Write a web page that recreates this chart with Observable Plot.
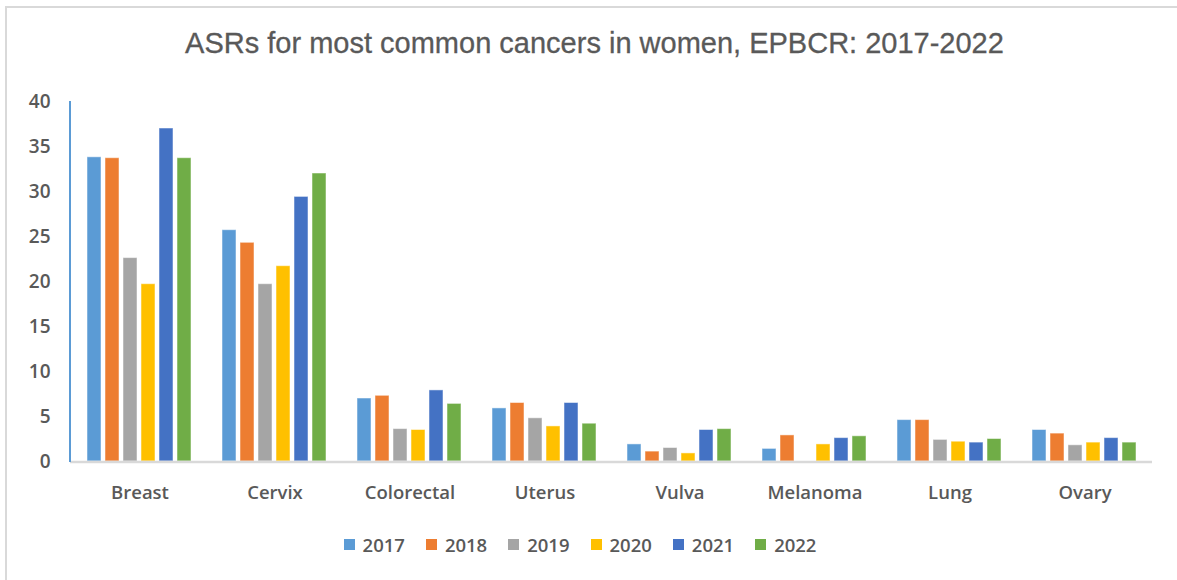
<!DOCTYPE html>
<html>
<head>
<meta charset="utf-8">
<script src="https://cdn.jsdelivr.net/npm/d3@7"></script>
<script src="https://cdn.jsdelivr.net/npm/@observablehq/plot@0.6"></script>
<style>
  html, body { margin: 0; padding: 0; background: #fff; }
  body { width: 1177px; height: 580px; position: relative; overflow: hidden; font-family: "Open Sans", "Liberation Sans", sans-serif; }
  #frame { position: absolute; left: 5px; top: 6px; width: 1172px; height: 574px; border-top: 2px solid #d9d9d9; border-left: 2px solid #d9d9d9; box-sizing: border-box; }
  #title { position: absolute; left: 0; width: 1189px; top: 27px; text-align: center; font-family: "Liberation Sans", sans-serif; font-size: 29px; color: #595959; white-space: nowrap; -webkit-text-stroke: 0.3px #595959; }
  #chart { position: absolute; left: 0; top: 80px; }
  #legend { position: absolute; left: 0; width: 1160px; top: 532px; display: flex; justify-content: center; gap: 21px; font-family: "Open Sans", sans-serif; font-weight: 600; font-size: 18.5px; color: #595959; }
  #legend .item { display: flex; align-items: center; gap: 8px; }
  #legend .sw { width: 11px; height: 11px; display: inline-block; }
</style>
</head>
<body>
<div id="frame"></div>
<div id="title">ASRs for most common cancers in women, EPBCR: 2017-2022</div>
<div id="chart"></div>
<div id="legend"></div>
<script>
const cancers = ["Breast", "Cervix", "Colorectal", "Uterus", "Vulva", "Melanoma", "Lung", "Ovary"];
const years = ["2017", "2018", "2019", "2020", "2021", "2022"];
const colors = ["#5B9BD5", "#ED7D31", "#A5A5A5", "#FFC000", "#4472C4", "#70AD47"];
const v2017 = [33.8, 25.7, 7.0, 5.9, 1.9, 1.4, 4.6, 3.5];
const v2018 = [33.7, 24.3, 7.3, 6.5, 1.1, 2.9, 4.6, 3.1];
const v2019 = [22.6, 19.7, 3.6, 4.8, 1.5, null, 2.4, 1.8];
const v2020 = [19.7, 21.7, 3.5, 3.9, 0.9, 1.9, 2.2, 2.1];
const v2021 = [37.0, 29.4, 7.9, 6.5, 3.5, 2.6, 2.1, 2.6];
const v2022 = [33.7, 32.0, 6.4, 4.2, 3.6, 2.8, 2.5, 2.1];
const yTicks = [0, 5, 10, 15, 20, 25, 30, 35, 40];

const series = [v2017, v2018, v2019, v2020, v2021, v2022];
const data = [];
years.forEach((yr, i) => cancers.forEach((c, j) => {
  if (series[i][j] != null) data.push({cancer: c, year: yr, value: series[i][j]});
}));

const chart = Plot.plot({
  width: 1177,
  height: 440,
  marginLeft: 70,
  marginRight: 22,
  marginTop: 21,
  marginBottom: 59,
  style: {fontFamily: "'Open Sans', sans-serif", background: "transparent"},
  fx: {domain: cancers, paddingInner: 0.22, paddingOuter: 0.11, label: null},
  x: {domain: years, paddingInner: 0.2, paddingOuter: 0, axis: null},
  y: {domain: [0, 40], label: null},
  color: {domain: years, range: colors},
  marks: [
    Plot.axisY({ticks: yTicks, tickSize: 0, tickPadding: 20, dx: -17, fontSize: 19, fontWeight: 600, fill: "#595959", label: null}),
    Plot.axisFx({anchor: "bottom", tickSize: 0, tickPadding: 24, fontSize: 18.5, fontWeight: 600, fill: "#595959", label: null}),
    Plot.barY(data, {fx: "cancer", x: "year", y: "value", fill: "year", stroke: "#ffffff", strokeOpacity: 0.5, strokeWidth: 1})
  ]
});
document.getElementById("chart").appendChild(chart);

// axis lines drawn from the plot's own scales
const ys = chart.scale("y");
const svg = d3.select(chart);
svg.append("line")
  .attr("x1", 70).attr("x2", 1152)
  .attr("y1", ys.apply(0) + 1).attr("y2", ys.apply(0) + 1)
  .attr("stroke", "#d9d9d9").attr("stroke-width", 2.5);
svg.append("line")
  .attr("x1", 70).attr("x2", 70)
  .attr("y1", ys.apply(40)).attr("y2", ys.apply(0) + 1)
  .attr("stroke", "#5B9BD5").attr("stroke-width", 2);

const legend = d3.select("#legend");
years.forEach((yr, i) => {
  const it = legend.append("div").attr("class", "item");
  it.append("span").attr("class", "sw").style("background", colors[i]);
  it.append("span").text(yr);
});
</script>
</body>
</html>
